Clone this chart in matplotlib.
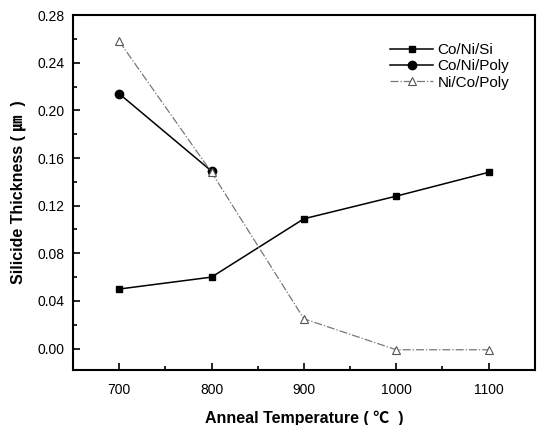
import matplotlib
matplotlib.use("Agg")
import matplotlib.pyplot as plt
from matplotlib.ticker import MultipleLocator

# data
temp = [700, 800, 900, 1000, 1100]
co_ni_si = [0.050, 0.060, 0.109, 0.128, 0.148]
temp_poly = [700, 800]
co_ni_poly = [0.214, 0.149]
ni_co_poly = [0.258, 0.148, 0.025, -0.001, -0.001]

fam = ['Liberation Sans', 'Noto Sans CJK SC', 'DejaVu Sans']
plt.rcParams['font.family'] = fam

fig = plt.figure(figsize=(5.42, 4.25), dpi=100)
ax = fig.add_axes([0.1347, 0.1294, 0.852, 0.835])

ax.plot(temp, co_ni_si, '-s', color='black', lw=1.1, markersize=5, label='Co/Ni/Si')
ax.plot(temp_poly, co_ni_poly, '-o', color='black', lw=1.1, markersize=6, label='Co/Ni/Poly')
ax.plot(temp, ni_co_poly, linestyle='-.', color='#777777', lw=0.9, marker='^',
        markersize=6, markerfacecolor='white', markeredgecolor='#555555',
        markeredgewidth=0.8, label='Ni/Co/Poly')

ax.set_xlim(650, 1150)
ax.set_ylim(-0.018, 0.28)
ax.set_xticks(temp)
ax.xaxis.set_minor_locator(MultipleLocator(50))
ax.set_yticks([0.00, 0.04, 0.08, 0.12, 0.16, 0.20, 0.24, 0.28])
ax.yaxis.set_minor_locator(MultipleLocator(0.02))
ax.yaxis.set_major_formatter(plt.FormatStrFormatter('%.2f'))
ax.tick_params(which='both', direction='in', top=False, right=False, labelsize=10, width=1.2)
ax.tick_params(which='major', length=5)
ax.tick_params(which='minor', length=3)
ax.tick_params(axis='x', pad=9)
ax.tick_params(axis='y', pad=6)
for s in ax.spines.values():
    s.set_linewidth(1.5)

ax.set_xlabel('Anneal Temperature ( \u2103  )', fontsize=11.5, fontweight='bold', labelpad=10)
ax.set_ylabel('Silicide Thickness ( \u339b  )', fontsize=11.5, fontweight='bold', labelpad=8)

ax.legend(loc='upper right', frameon=False, fontsize=11, bbox_to_anchor=(0.975, 0.96),
          handlelength=2.8, handletextpad=0.3, labelspacing=0.15)

fig.savefig('out.png', dpi=100)
